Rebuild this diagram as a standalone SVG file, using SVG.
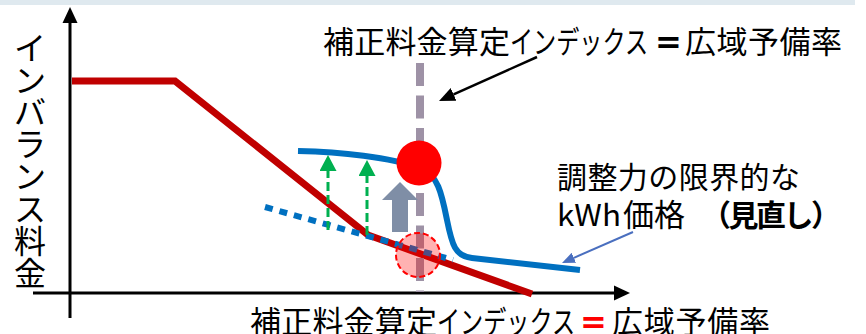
<svg xmlns="http://www.w3.org/2000/svg" width="866" height="334" viewBox="0 0 866 334">
<style>
.t{font-family:"Noto Sans CJK JP","Noto Sans",sans-serif;fill:#000}
.b{font-weight:bold}
.eq{font-family:"DejaVu Sans",sans-serif;font-weight:bold;font-size:32px}
.ax{stroke:#000;stroke-width:3;fill:none}
</style>
<defs>
<marker id="ah" markerUnits="userSpaceOnUse" viewBox="0 0 16 16" markerWidth="16" markerHeight="16" refX="0" refY="8" orient="auto"><path d="M0,0.5 L16,8 L0,15.5 z" fill="#000"/></marker>
<marker id="ahk" markerUnits="userSpaceOnUse" viewBox="0 0 16 14" markerWidth="16" markerHeight="14" refX="0" refY="7" orient="auto"><path d="M0,0 L16,7 L0,14 z" fill="#000"/></marker>
<marker id="ahb" markerUnits="userSpaceOnUse" viewBox="0 0 13 11" markerWidth="13" markerHeight="11" refX="0" refY="5.5" orient="auto"><path d="M0,0 L13,5.5 L0,11 z" fill="#4a6fbf"/></marker>
<marker id="ahg" markerUnits="userSpaceOnUse" viewBox="0 0 16 17" markerWidth="16" markerHeight="17" refX="0" refY="8.5" orient="auto"><path d="M0,0 L16,8.5 L0,17 z" fill="#00b050"/></marker>
</defs>
<rect x="0" y="0" width="855" height="5" fill="#dfe9ef"/>
<g id="axes">
<line class="ax" x1="70" y1="318" x2="70" y2="23" marker-end="url(#ah)"/>
<line class="ax" x1="33" y1="293" x2="614" y2="293" marker-end="url(#ah)"/>
</g>
<g id="y-label" class="t" font-size="32" text-anchor="middle">
<text x="30" y="59.5">イ</text>
<text x="30" y="91.7">ン</text>
<text x="30" y="123.9">バ</text>
<text x="30" y="156.1">ラ</text>
<text x="30" y="188.3">ン</text>
<text x="30" y="220.5">ス</text>
<text x="30" y="252.7">料</text>
<text x="30" y="284.9">金</text>
</g>
<g id="x-label" class="t" font-size="31">
<text x="250" y="333" textLength="187" lengthAdjust="spacing">補正料金算定</text>
<text x="437" y="333" textLength="138" lengthAdjust="spacingAndGlyphs">インデックス</text>
<text x="593.5" y="333" text-anchor="middle" class="eq" style="fill:#ff0000">=</text>
<text x="612" y="333" textLength="158" lengthAdjust="spacing">広域予備率</text>
</g>
<g id="red-price-line">
<polyline points="72,81 175,81 368,235 532,294" fill="none" stroke="#c00000" stroke-width="7"/>
</g>
<g id="index-line">
<line x1="420" y1="63" x2="420" y2="292" stroke="#9e92a6" stroke-width="8" stroke-dasharray="23 9.5"/>
</g>
<g id="new-kwh-curve">
<path d="M298,151 C340,152 390,157 420,168 C438,174 442,195 447,220 C452,245 455,256 472,258 L580,270" fill="none" stroke="#0070c0" stroke-width="6"/>
</g>
<g id="old-kwh-line">
<line x1="265" y1="207" x2="453" y2="260" stroke="#0070c0" stroke-width="6" stroke-dasharray="8 7"/>
</g>
<g id="connectors">
<line x1="328" y1="230" x2="328" y2="171" stroke="#00b050" stroke-width="3" stroke-dasharray="9 4" marker-end="url(#ahg)"/>
<line x1="367" y1="235" x2="367" y2="176" stroke="#00b050" stroke-width="3" stroke-dasharray="9 4" marker-end="url(#ahg)"/>
<polygon points="392,232 408,232 408,200 418,200 400,182 382,200 392,200" fill="#7f8ea6"/>
<line x1="537" y1="57" x2="453.6" y2="94.4" stroke="#000" stroke-width="2.5" marker-end="url(#ahk)"/>
<line x1="633" y1="232" x2="573.9" y2="257.8" stroke="#4a6fbf" stroke-width="2" marker-end="url(#ahb)"/>
</g>
<g id="new-point">
<circle cx="419" cy="163" r="22.5" fill="#ff0000"/>
</g>
<g id="old-point">
<circle cx="418" cy="255" r="22" fill="#ff0000" fill-opacity="0.3" stroke="#ff0000" stroke-width="2" stroke-dasharray="6 3"/>
</g>
<g id="top-label" class="t" font-size="31">
<text x="323" y="53" textLength="187" lengthAdjust="spacing">補正料金算定</text>
<text x="510" y="53" textLength="138" lengthAdjust="spacingAndGlyphs">インデックス</text>
<text x="668.5" y="53" text-anchor="middle" class="eq">=</text>
<text x="685" y="53" textLength="157" lengthAdjust="spacing">広域予備率</text>
</g>
<g id="kwh-label" class="t" font-size="30">
<text x="557" y="188" textLength="243" lengthAdjust="spacing">調整力の限界的な</text>
<text x="557" y="226" textLength="64" lengthAdjust="spacingAndGlyphs">kWh</text>
<text x="623" y="226" font-size="31">価格</text>
<text x="701" y="226" textLength="140" lengthAdjust="spacing" class="b">（見直し）</text>
</g>
</svg>
